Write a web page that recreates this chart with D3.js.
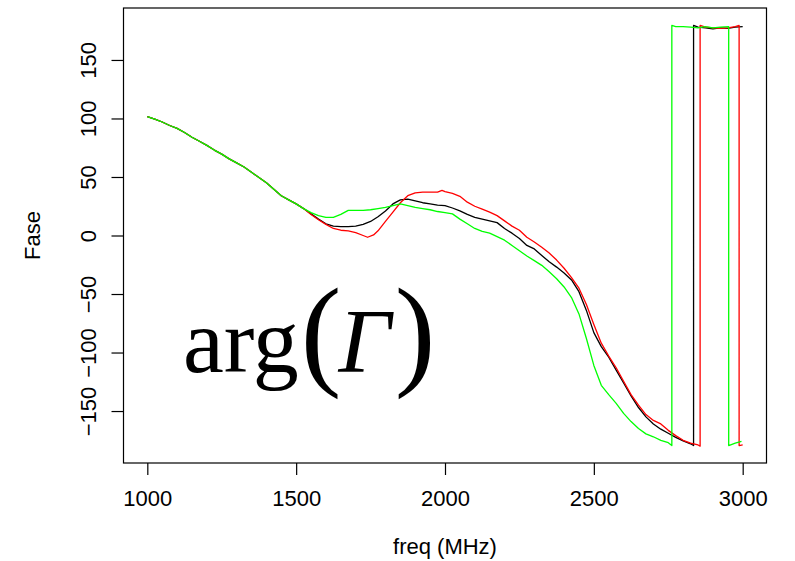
<!DOCTYPE html>
<html>
<head>
<meta charset="utf-8">
<script src="https://cdn.jsdelivr.net/npm/d3@7"></script>
<style>
  body { margin: 0; background: #fff; }
  svg { display: block; }
</style>
</head>
<body>
<div id="chart"></div>
<script>
// Phase of reflection coefficient, three measurements (black, red, green)
// Shared low-frequency part 1000..1500 MHz
const freqCommon = [1000, 1025, 1050, 1075, 1100, 1125, 1150, 1175, 1200, 1225, 1250, 1275,
  1300, 1325, 1350, 1375, 1400, 1425, 1450, 1475, 1500];
const phaseCommon = [101.5, 99.5, 97, 94, 91.5, 88, 84, 80.5, 77, 73, 69.5, 65.5,
  62, 58.5, 54, 49.5, 45, 39.5, 34, 30.5, 27];

const freqBlack = [1525, 1550, 1575, 1600, 1625, 1650, 1675, 1700, 1725, 1750, 1775, 1800,
  1825, 1850, 1875, 1900, 1925, 1950, 1975, 2000, 2025, 2050, 2075, 2100, 2125, 2150, 2175,
  2200, 2225, 2250, 2275, 2300, 2325, 2350, 2375, 2400, 2425, 2450, 2475, 2500, 2525, 2550,
  2575, 2600, 2625, 2650, 2675, 2700, 2725, 2750, 2775, 2800, 2825, 2835,
  2835, 2850, 2875, 2900, 2925, 2950, 2975, 3000];
const phaseBlack = [23, 18.5, 14, 10, 8, 7.5, 7.5, 8, 9.5, 12, 16, 21,
  27, 30.5, 31, 29.5, 28, 27, 26, 25.5, 23.5, 21, 18, 15.5, 14, 12.5, 11,
  6, 2, -2.5, -8.5, -11.5, -17, -22.5, -27, -32, -38, -48, -64, -83, -95, -104,
  -115, -126, -137, -147, -155, -161, -165.5, -169, -172.5, -175.5, -178, -179.5,
  179.5, 178, 177.5, 176.5, 177.5, 177, 178, 178.5];

const freqRed = [1525, 1550, 1575, 1600, 1625, 1650, 1675, 1700, 1725, 1740, 1760, 1775, 1800,
  1825, 1850, 1875, 1900, 1925, 1950, 1975, 1990, 2000, 2025, 2050, 2075, 2100, 2125, 2150,
  2175, 2200, 2225, 2250, 2275, 2300, 2325, 2350, 2375, 2400, 2425, 2450, 2475, 2500, 2525,
  2550, 2575, 2600, 2625, 2650, 2675, 2700, 2725, 2750, 2775, 2800, 2825, 2850, 2857,
  2857, 2875, 2900, 2925, 2950, 2975, 2988,
  2988, 3000];
const phaseRed = [23, 18, 13.5, 9.5, 6, 4.5, 4, 2.5, 0, -1.5, 0.5, 4, 12,
  20, 28, 34, 36.5, 37, 37, 37, 38.5, 37.5, 36, 33.5, 28.5, 25, 22.5, 20,
  17, 12.5, 8, 4.5, -1.5, -5.5, -10, -15, -21, -28, -36, -45, -59, -76, -92,
  -103, -113, -124.5, -136, -145, -153, -158, -161, -166.5, -171, -175, -177.5, -179, -180,
  179.5, 178, 177.5, 177, 177.5, 178.5, 179.5,
  -179.5, -179];

const freqGreen = [1525, 1550, 1575, 1600, 1625, 1650, 1675, 1700, 1725, 1750, 1775, 1800,
  1825, 1850, 1875, 1900, 1925, 1950, 1975, 2000, 2025, 2050, 2075, 2100, 2125, 2150, 2175,
  2200, 2225, 2250, 2275, 2300, 2325, 2350, 2375, 2400, 2425, 2450, 2475, 2500, 2525, 2550,
  2575, 2600, 2625, 2650, 2675, 2700, 2725, 2750, 2762,
  2762, 2775, 2800, 2825, 2850, 2875, 2900, 2925, 2953,
  2953, 2975, 2996];
const phaseGreen = [23, 19.5, 17, 15.5, 15.5, 18, 21.5, 21.5, 21.5, 22, 23, 24,
  25.5, 27, 25.5, 24, 23, 22, 20.5, 19.5, 18.5, 14, 10, 6, 3.5, 2, -1,
  -4, -8.5, -13, -17.5, -21.5, -25.5, -31, -37, -44, -53, -67, -88, -111, -128, -136,
  -143.5, -152, -159, -165, -169.5, -172, -175, -177, -179.5,
  179.5, 178.5, 178.5, 178, 177.5, 178.5, 177.5, 178, 178.5,
  -179.5, -177.5, -176];

const xTicks = [1000, 1500, 2000, 2500, 3000];
const yTicks = [-150, -100, -50, 0, 50, 100, 150];

const width = 795, height = 561;
const plot = { left: 123.5, right: 766.5, top: 8, bottom: 463 };
const sans = "'Liberation Sans', Arial, sans-serif";

const svg = d3.select("#chart").append("svg")
  .attr("width", width)
  .attr("height", height)
  .style("font-family", sans);

// R-style 4% padding on both axes
const x = d3.scaleLinear().domain([920, 3080]).range([plot.left, plot.right]);
const y = d3.scaleLinear().domain([-194.4, 194.4]).range([plot.bottom, plot.top]);

const series = [
  { color: "#00ff00", f: freqGreen, p: phaseGreen },
  { color: "#ff0000", f: freqRed, p: phaseRed },
  { color: "#000000", f: freqBlack, p: phaseBlack }
];

const line = d3.line()
  .x(d => x(d[0]))
  .y(d => y(d[1]));

// black first, then red, green ends up on top
series.slice().reverse().forEach(s => {
  const pts = freqCommon.map((f, i) => [f, phaseCommon[i]])
    .concat(s.f.map((f, i) => [f, s.p[i]]));
  svg.append("path")
    .datum(pts)
    .attr("fill", "none")
    .attr("stroke", s.color)
    .attr("stroke-width", 1.3)
    .attr("stroke-linejoin", "round")
    .attr("d", line);
});

// Box
svg.append("rect")
  .attr("x", plot.left)
  .attr("y", plot.top)
  .attr("width", plot.right - plot.left)
  .attr("height", plot.bottom - plot.top)
  .attr("fill", "none")
  .attr("stroke", "#000")
  .attr("stroke-width", 1.2);

// X axis
const xAxis = svg.append("g")
  .attr("transform", `translate(0,${plot.bottom})`)
  .call(d3.axisBottom(x).tickValues(xTicks).tickFormat(d3.format("d"))
    .tickSize(12).tickSizeOuter(0).tickPadding(15));
xAxis.select(".domain").remove();
xAxis.selectAll("line").attr("stroke", "#000").attr("stroke-width", 1.2);
xAxis.selectAll("text")
  .attr("font-size", "22px")
  .attr("font-family", sans)
  .attr("fill", "#000");

// Y axis (labels parallel to axis, R las=0)
const yAxis = svg.append("g")
  .attr("transform", `translate(${plot.left},0)`)
  .call(d3.axisLeft(y).tickValues(yTicks).tickFormat(d3.format("d"))
    .tickSize(12).tickSizeOuter(0));
yAxis.select(".domain").remove();
yAxis.selectAll("line").attr("stroke", "#000").attr("stroke-width", 1.2);
yAxis.selectAll("text")
  .attr("font-size", "22px")
  .attr("font-family", sans)
  .attr("fill", "#000")
  .attr("x", null)
  .attr("dy", null)
  .attr("text-anchor", "middle")
  .attr("transform", "translate(-27.5,0) rotate(-90)");

// Axis titles
svg.append("text")
  .attr("x", (x(1000) + x(3000)) / 2)
  .attr("y", 554)
  .attr("text-anchor", "middle")
  .attr("font-size", "22px")
  .text("freq (MHz)");

svg.append("text")
  .attr("transform", `translate(40,${(plot.top + plot.bottom) / 2}) rotate(-90)`)
  .attr("text-anchor", "middle")
  .attr("font-size", "22px")
  .text("Fase");

// Annotation arg(Γ)
const ann = svg.append("text")
  .attr("x", 183)
  .attr("y", 372)
  .style("font-family", "'Liberation Serif', 'Times New Roman', serif")
  .attr("fill", "#000");
ann.append("tspan").attr("font-size", "92px").text("arg");
ann.append("tspan").attr("font-size", "122px").attr("dy", 1).attr("dx", 2).text("(");
ann.append("tspan").attr("font-size", "92px").attr("font-style", "italic").attr("dy", -1).attr("dx", -3).text("Γ");
ann.append("tspan").attr("font-size", "122px").attr("dy", 1).attr("dx", 4).text(")");
</script>
</body>
</html>
